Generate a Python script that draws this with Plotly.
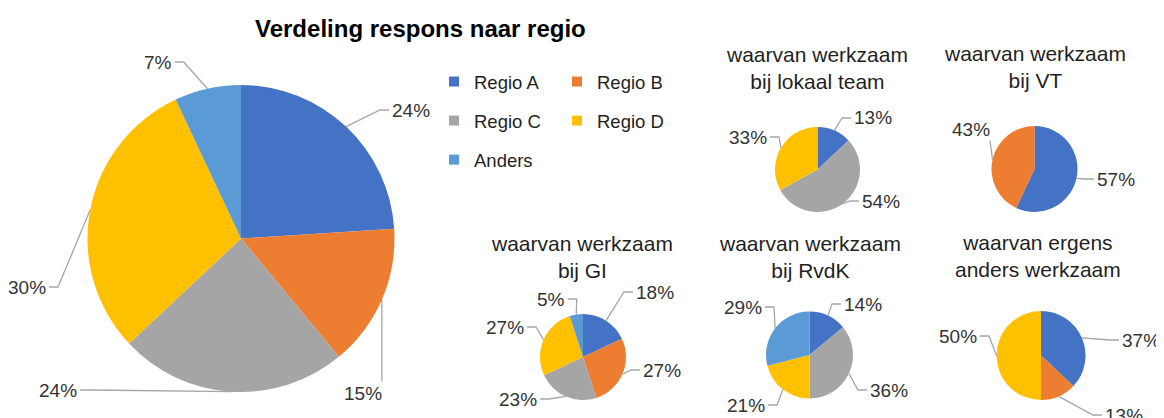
import math
import plotly.graph_objects as go

W, H = 1164, 418
OFF = 8  # the page body adds an 8px margin; positions below are in window pixels

# ---------------- data ----------------
categories = ["Regio A", "Regio B", "Regio C", "Regio D", "Anders"]
colors = ["#4472C4", "#ED7D31", "#A5A5A5", "#FFC000", "#5B9BD5"]

main_title = "Verdeling respons naar regio"
main_values = [24, 15, 24, 30, 7]

lokaal_title = "waarvan werkzaam<br>bij lokaal team"
lokaal_values = [13, 0, 54, 33, 0]

vt_title = "waarvan werkzaam<br>bij VT"
vt_values = [57, 43, 0, 0, 0]

gi_title = "waarvan werkzaam<br>bij GI"
gi_values = [18, 27, 23, 27, 5]

rvdk_title = "waarvan werkzaam<br>bij RvdK"
rvdk_values = [14, 0, 36, 21, 29]

elders_title = "waarvan ergens<br>anders werkzaam"
elders_values = [37, 13, 0, 50, 0]

# ---------------- layout / style (window pixel positions) ----------------
FONT = "Liberation Sans, Arial, sans-serif"
TXT = "#333333"
LEADER = "#A6A6A6"
LABEL_SIZE = 19


def px(X):
    return (X - OFF) / W


def py(Y):
    return 1 - (Y - OFF) / H


pies = [
    dict(values=main_values, title=main_title, cx=241, cy=238.5, r=153.5,
         title_xy=(420, 29), title_size=24, bold=True,
         labels={0: (411, 110), 1: (363, 393), 2: (58, 390), 3: (27, 287), 4: (158, 62)}),
    dict(values=lokaal_values, title=lokaal_title, cx=817.5, cy=169.5, r=42.5,
         title_xy=(817, 68), title_size=21, bold=False,
         labels={0: (873, 118), 2: (881, 201), 3: (748, 137)}),
    dict(values=vt_values, title=vt_title, cx=1034.5, cy=169, r=43,
         title_xy=(1035, 67), title_size=21, bold=False,
         labels={0: (1116, 179), 1: (971, 129)}),
    dict(values=gi_values, title=gi_title, cx=583, cy=357, r=43,
         title_xy=(582, 256.5), title_size=21, bold=False,
         labels={0: (655, 292), 1: (662, 370), 2: (518, 399), 3: (505, 327), 4: (551, 299)}),
    dict(values=rvdk_values, title=rvdk_title, cx=809.5, cy=355, r=43.5,
         title_xy=(810, 257), title_size=21, bold=False,
         labels={0: (863, 304), 2: (889, 390), 3: (746, 405), 4: (743, 307)}),
    dict(values=elders_values, title=elders_title, cx=1041, cy=355.5, r=44.5,
         title_xy=(1038, 256), title_size=21, bold=False,
         labels={0: (1141, 340), 1: (1124, 415), 3: (958, 336)}),
]

fig = go.Figure()
annotations = []
shapes = []

for p in pies:
    cx, cy, r = p["cx"], p["cy"], p["r"]
    fig.add_trace(go.Pie(
        labels=categories, values=p["values"],
        marker=dict(colors=colors, line=dict(width=0)),
        sort=False, direction="clockwise", rotation=0,
        textinfo="none", hoverinfo="label+percent", showlegend=False,
        domain=dict(x=[px(cx - r), px(cx + r)], y=[py(cy + r), py(cy - r)]),
    ))
    total = sum(p["values"])
    cum = 0
    for i, v in enumerate(p["values"]):
        if v <= 0:
            continue
        mid = (cum + v / 2) / total * 2 * math.pi
        cum += v
        # point on the slice rim at the slice's mid angle (clockwise from 12 o'clock)
        ex = cx + r * math.sin(mid)
        ey = cy - r * math.cos(mid)
        tx, ty = p["labels"][i]
        text = f"{round(v / total * 100)}%"
        half_w = LABEL_SIZE * (0.556 * (len(text) - 1) + 0.889) / 2
        half_h = LABEL_SIZE * 0.5
        left, right = tx - half_w, tx + half_w
        if ex > right + 10:
            pts = [(right + 3, ty), (right + 12, ty), (ex, ey)]
        elif ex < left - 10:
            pts = [(left - 3, ty), (left - 12, ty), (ex, ey)]
        else:
            cxl = min(max(ex, left), right)
            yy = ty + half_h + 2 if ey > ty else ty - half_h - 2
            pts = [(cxl, yy), (ex, ey)]
        path = "M " + " L ".join(f"{px(a):.5f},{py(b):.5f}" for a, b in pts)
        shapes.append(dict(type="path", xref="paper", yref="paper", path=path,
                           line=dict(color=LEADER, width=1.3)))
        annotations.append(dict(
            xref="paper", yref="paper", x=px(tx), y=py(ty),
            xanchor="center", yanchor="middle", text=text, showarrow=False,
            font=dict(family=FONT, size=LABEL_SIZE, color=TXT),
        ))
    t = p["title"]
    if p["bold"]:
        t = f"<b>{t}</b>"
    annotations.append(dict(
        xref="paper", yref="paper", x=px(p["title_xy"][0]), y=py(p["title_xy"][1]),
        xanchor="center", yanchor="middle", text=t, showarrow=False,
        font=dict(family=FONT, size=p["title_size"],
                  color="#000000" if p["bold"] else "#1F1F1F"),
    ))

# legend entries (two columns)
legend_cols = ["legend", "legend2", "legend", "legend2", "legend"]
for cat, col, lg in zip(categories, colors, legend_cols):
    fig.add_trace(go.Scatter(
        x=[None], y=[None], mode="markers", name=cat,
        marker=dict(symbol="square", size=10, color=col),
        legend=lg, legendgroup=cat, showlegend=True, hoverinfo="skip",
    ))

leg_common = dict(
    xanchor="left", yanchor="top", bgcolor="rgba(0,0,0,0)",
    font=dict(family=FONT, size=18.5, color="#1F1F1F"),
    traceorder="grouped", tracegroupgap=12, itemwidth=30,
)

fig.update_layout(
    width=W, height=H, autosize=False,
    margin=dict(l=0, r=0, t=0, b=0),
    paper_bgcolor="white", plot_bgcolor="white",
    xaxis=dict(visible=False), yaxis=dict(visible=False),
    legend=dict(x=px(434), y=py(63), **leg_common),
    legend2=dict(x=px(557), y=py(63), **leg_common),
    annotations=annotations,
    shapes=shapes,
    font=dict(family=FONT),
)

fig.write_html("out.html")
